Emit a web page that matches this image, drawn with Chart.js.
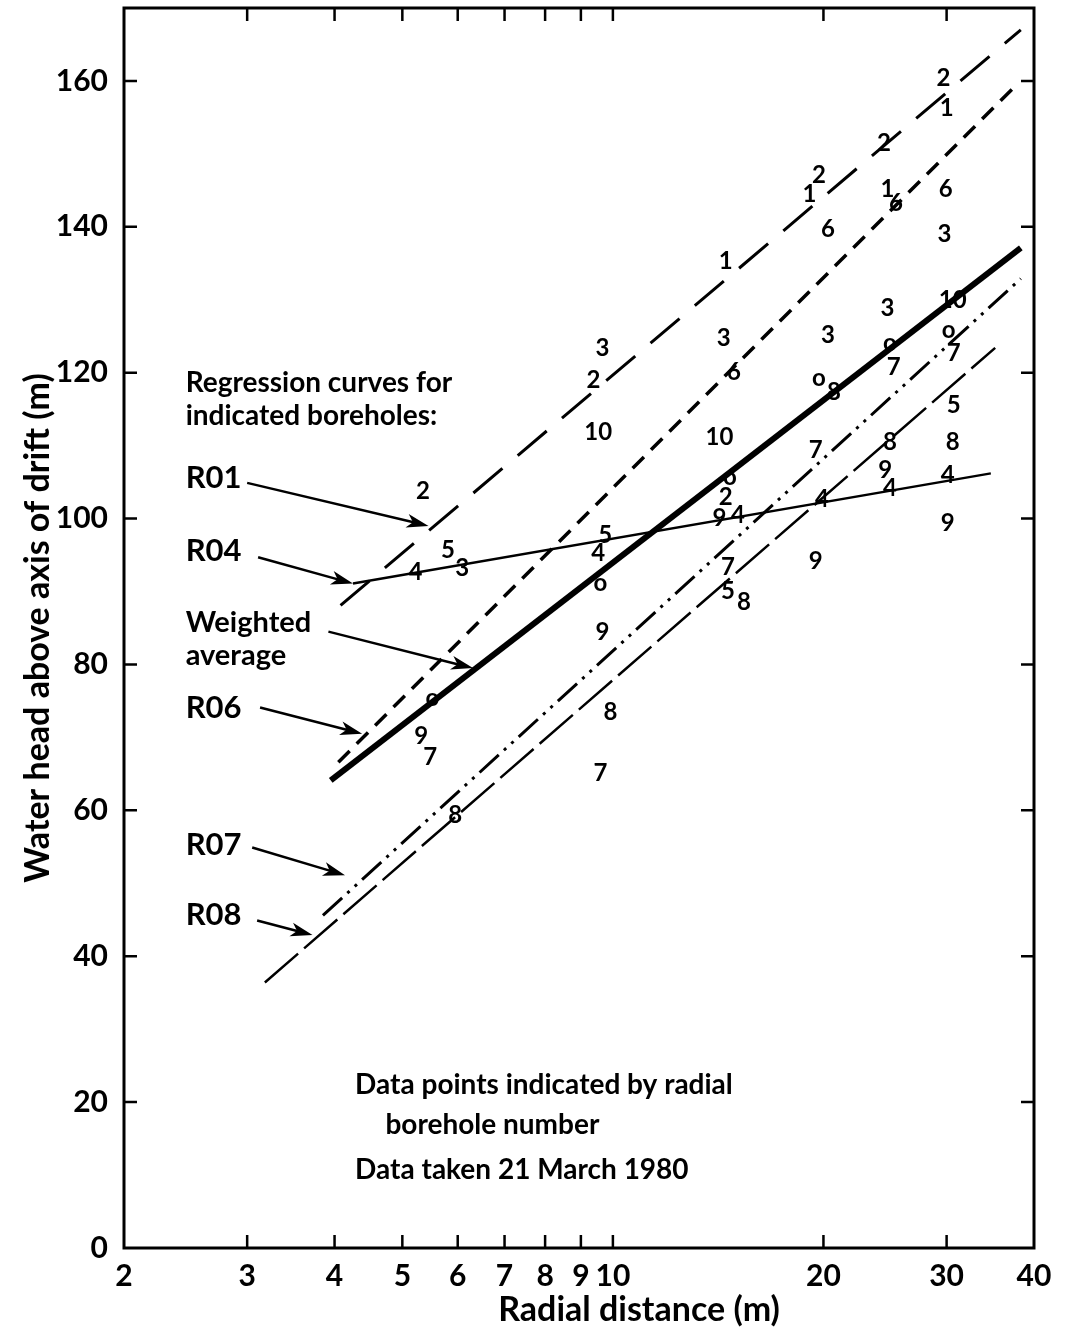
<!DOCTYPE html>
<html>
<head>
<meta charset="utf-8">
<script src="https://cdn.jsdelivr.net/npm/chart.js@4.4.1/dist/chart.umd.min.js"></script>
<style>
  html, body { margin: 0; padding: 0; background: #fff; }
</style>
</head>
<body>
<canvas id="myChart" width="1068" height="1334"></canvas>
<script>
const FONT = "Lato, 'Liberation Sans', sans-serif"

// axis ticks
const xTicks = [2, 3, 4, 5, 6, 7, 8, 9, 10, 20, 30, 40]
const yTicks = [0, 20, 40, 60, 80, 100, 120, 140, 160]

// regression lines (end points)
const r01X = [4.08, 38.3]
const r01Y = [88.1, 167.0]
const r06X = [4.05, 37.6]
const r06Y = [66.6, 159.3]
const avgX = [3.95, 38.3]
const avgY = [64.1, 137.1]
const r04X = [4.25, 34.7]
const r04Y = [91.1, 106.2]
const r07X = [3.85, 38.3]
const r07Y = [45.6, 132.9]
const r08X = [3.18, 35.2]
const r08Y = [36.4, 123.4]

// data points, shown by borehole number
const ptLabel = ['2', '1', '2', '2', '1', '1', '6', '6', '6', '3',
  '1', '3', '10', '3', '3', '3', 'o', 'o', '7', '7',
  '2', '6', 'o', '8', '10', '10', '5', '8', '8', '7',
  '9', '4', 'o', '2', '4', '4', '2', '9', '4', '5',
  '4', 'o', '5', '4', '3', '7', '5', '8', '9', '9',
  '9', 'o', '8', '9', '7', '7', '8']
const ptX = [29.7, 30.0, 24.4, 19.7, 19.1, 24.7, 25.4, 29.9, 20.3, 29.8,
  14.5, 24.7, 30.6, 9.66, 14.4, 20.3, 24.9, 30.2, 25.2, 30.7,
  9.38, 14.9, 19.7, 20.7, 9.53, 14.2, 30.7, 24.9, 30.6, 19.5,
  24.5, 30.1, 14.7, 14.5, 24.9, 19.9, 5.35, 14.2, 15.1, 9.75,
  9.53, 9.6, 5.81, 5.22, 6.09, 14.6, 14.6, 15.4, 19.5, 30.1,
  9.66, 5.52, 9.92, 5.32, 5.48, 9.6, 5.95]
const ptY = [160.4, 156.3, 151.5, 147.0, 144.5, 145.2, 143.2, 145.2, 139.6, 139.0,
  135.3, 128.8, 129.9, 123.3, 124.7, 125.1, 124.1, 125.8, 120.7, 122.7,
  118.9, 120.0, 119.3, 117.3, 111.8, 111.1, 115.5, 110.4, 110.4, 109.3,
  106.6, 105.9, 105.6, 102.9, 104.1, 102.6, 103.8, 100.0, 100.4, 97.7,
  95.3, 91.2, 95.6, 92.6, 93.2, 93.3, 90.1, 88.5, 94.2, 99.3,
  84.4, 75.3, 73.4, 70.1, 67.3, 65.1, 59.3]

// arrows from the curve names to the curves: [x0, y0, x1, y1]
const arrows = [
  [3.0, 104.9, 5.45, 99.0],
  [3.11, 94.7, 4.25, 91.1],
  [3.92, 84.5, 6.31, 79.5],
  [3.13, 74.1, 4.38, 70.5],
  [3.05, 54.9, 4.14, 51.1],
  [3.1, 44.9, 3.72, 42.9]
]

// text written inside the plot: [text, x, y, size]
const notes = [
  ['Regression curves for', 2.45, 118.6, 28],
  ['indicated boreholes:', 2.45, 114.1, 28],
  ['R01', 2.45, 105.5, 31],
  ['R04', 2.45, 95.6, 31],
  ['Weighted', 2.45, 85.8, 29],
  ['average', 2.45, 81.2, 29],
  ['R06', 2.45, 74.1, 31],
  ['R07', 2.45, 55.2, 31],
  ['R08', 2.45, 45.6, 31],
  ['Data points indicated by radial', 4.28, 22.3, 28],
  ['borehole number', 4.73, 16.8, 28],
  ['Data taken 21 March 1980', 4.28, 10.7, 28]
]

function pairs(xs, ys) {
  return xs.map((x, i) => ({x: x, y: ys[i]}))
}

function curve(xs, ys, width, dash) {
  return {
    type: 'scatter',
    data: pairs(xs, ys),
    showLine: true,
    borderColor: '#000',
    borderWidth: width,
    borderDash: dash,
    borderCapStyle: 'butt',
    pointRadius: 0,
    fill: false
  }
}

const frame = {
  id: 'frame',
  afterDatasetsDraw(chart) {
    const ctx = chart.ctx
    const a = chart.chartArea
    const x = chart.scales.x
    const y = chart.scales.y
    ctx.save()
    ctx.strokeStyle = '#000'
    ctx.lineWidth = 3
    ctx.strokeRect(a.left, a.top, a.right - a.left, a.bottom - a.top)
    ctx.lineWidth = 2.5
    ctx.beginPath()
    xTicks.slice(1, -1).forEach(v => {
      const px = x.getPixelForValue(v)
      ctx.moveTo(px, a.bottom); ctx.lineTo(px, a.bottom - 13)
      ctx.moveTo(px, a.top); ctx.lineTo(px, a.top + 13)
    })
    yTicks.slice(1).forEach(v => {
      const py = y.getPixelForValue(v)
      ctx.moveTo(a.left, py); ctx.lineTo(a.left + 13, py)
      ctx.moveTo(a.right, py); ctx.lineTo(a.right - 13, py)
    })
    ctx.stroke()

    // arrows
    ctx.lineWidth = 2.5
    arrows.forEach(ar => {
      const x0 = x.getPixelForValue(ar[0]), y0 = y.getPixelForValue(ar[1])
      const x1 = x.getPixelForValue(ar[2]), y1 = y.getPixelForValue(ar[3])
      const ang = Math.atan2(y1 - y0, x1 - x0)
      ctx.beginPath()
      ctx.moveTo(x0, y0); ctx.lineTo(x1 - 10 * Math.cos(ang), y1 - 10 * Math.sin(ang))
      ctx.stroke()
      ctx.beginPath()
      ctx.moveTo(x1, y1)
      ctx.lineTo(x1 - 22 * Math.cos(ang) + 7 * Math.sin(ang), y1 - 22 * Math.sin(ang) - 7 * Math.cos(ang))
      ctx.lineTo(x1 - 16 * Math.cos(ang), y1 - 16 * Math.sin(ang))
      ctx.lineTo(x1 - 22 * Math.cos(ang) - 7 * Math.sin(ang), y1 - 22 * Math.sin(ang) + 7 * Math.cos(ang))
      ctx.closePath()
      ctx.fill()
    })

    // borehole numbers
    const meta = chart.getDatasetMeta(6)
    ctx.fillStyle = '#000'
    ctx.textAlign = 'center'
    ctx.textBaseline = 'middle'
    ctx.font = 'bold 24px ' + FONT
    meta.data.forEach((el, i) => ctx.fillText(ptLabel[i], el.x, el.y))

    // notes
    ctx.textAlign = 'left'
    notes.forEach(n => {
      ctx.font = 'bold ' + n[3] + 'px ' + FONT
      ctx.fillText(n[0], x.getPixelForValue(n[1]), y.getPixelForValue(n[2]))
    })

    // x axis title
    ctx.textAlign = 'center'
    ctx.font = 'bold 34px ' + FONT
    ctx.fillText('Radial distance (m)', x.getPixelForValue(10.9), chart.height - 24)
    ctx.restore()
  }
}

var ctx = document.getElementById('myChart').getContext('2d')
var chart = new Chart(ctx, {
  type: 'scatter',
  data: {
    datasets: [
      curve(r01X, r01Y, 3, [38, 20]),
      curve(r06X, r06Y, 3.5, [16, 10]),
      curve(avgX, avgY, 6, []),
      curve(r04X, r04Y, 2.5, []),
      curve(r07X, r07Y, 3, [26, 7, 3, 7, 3, 7]),
      curve(r08X, r08Y, 2.5, [44, 8]),
      {
        type: 'scatter',
        data: pairs(ptX, ptY),
        pointRadius: 0,
        showLine: false
      }
    ]
  },
  plugins: [frame],
  options: {
    responsive: false,
    animation: false,
    layout: { padding: { top: 8, right: 34, left: 0, bottom: 0 } },
    plugins: { legend: { display: false }, tooltip: { enabled: false } },
    scales: {
      x: {
        type: 'logarithmic',
        min: 2,
        max: 40,
        afterBuildTicks: s => { s.ticks = xTicks.map(v => ({value: v})) },
        afterFit: s => { s.height = 86; s.paddingLeft = 0; s.paddingRight = 0 },
        grid: { display: false, drawTicks: false },
        border: { display: false },
        ticks: {
          autoSkip: false, maxRotation: 0, color: '#000', padding: 10,
          font: { family: FONT, size: 30, weight: 'bold' },
          callback: v => String(v)
        }
      },
      y: {
        min: 0,
        max: 170,
        afterBuildTicks: s => { s.ticks = yTicks.map(v => ({value: v})) },
        afterFit: s => { s.width = 124; s.paddingTop = 0; s.paddingBottom = 0 },
        grid: { display: false, drawTicks: false },
        border: { display: false },
        ticks: { color: '#000', padding: 16, font: { family: FONT, size: 30, weight: 'bold' } },
        title: {
          display: true, text: 'Water head above axis of drift (m)', color: '#000',
          font: { family: FONT, size: 34, weight: 'bold' }, padding: { top: 18, bottom: 0 }
        }
      }
    }
  }
})
</script>
</body>
</html>
